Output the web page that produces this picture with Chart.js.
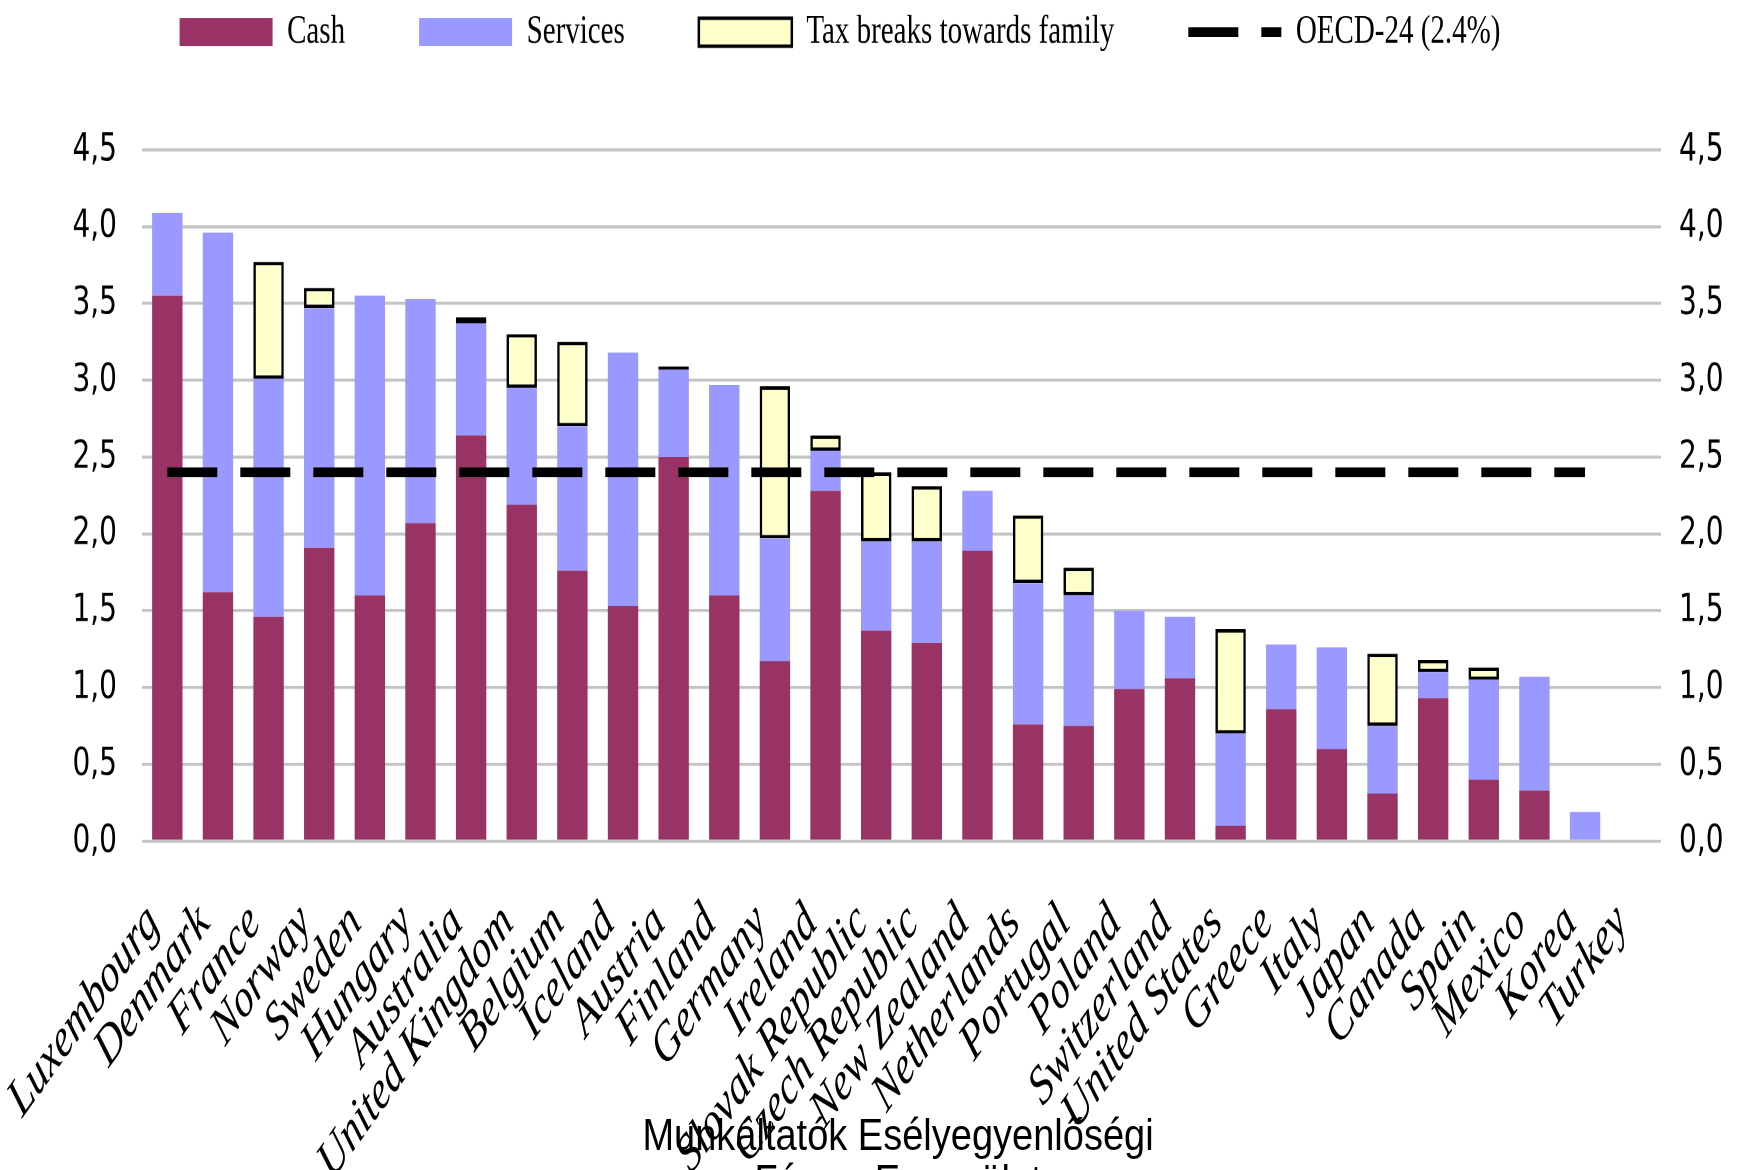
<!DOCTYPE html>
<html>
<head>
<meta charset="utf-8">
<title>Public spending on family benefits</title>
<script src="https://cdn.jsdelivr.net/npm/chart.js@4.4.1/dist/chart.umd.min.js"></script>
<style>
  html, body { margin: 0; padding: 0; background: #fff; overflow: hidden; }
  #page { position: relative; width: 1742px; height: 1170px; overflow: hidden; }
  /* the original slide stretched the chart vertically, so draw flat and stretch */
  #stretch { position: absolute; left: 0; top: 0; width: 1742px; height: 836px;
             transform: scaleY(1.3995); transform-origin: 0 0; }
  #footer { position: absolute; left: 0; top: 1112px; width: 1796px; text-align: center;
            font-family: "Liberation Sans", Arial, sans-serif; font-size: 38px; line-height: 40px;
            color: #000; transform: scaleY(1.15); transform-origin: 50% 0; }
</style>
</head>
<body>
<div id="page">
  <div id="stretch"><canvas id="chart" width="1742" height="836"></canvas></div>
  <div id="footer">Munkáltatók Esélyegyenlőségi<br>Fórum Egyesület</div>
</div>
<script>
"use strict";

const countries = ["Luxembourg", "Denmark", "France", "Norway", "Sweden", "Hungary", "Australia",
  "United Kingdom", "Belgium", "Iceland", "Austria", "Finland", "Germany", "Ireland",
  "Slovak Republic", "Czech Republic", "New Zealand", "Netherlands", "Portugal", "Poland",
  "Switzerland", "United States", "Greece", "Italy", "Japan", "Canada", "Spain", "Mexico",
  "Korea", "Turkey"];

const cash = [3.55, 1.62, 1.46, 1.91, 1.60, 2.07, 2.64, 2.19, 1.76, 1.53, 2.50, 1.60, 1.17, 2.28,
  1.37, 1.29, 1.89, 0.76, 0.75, 0.99, 1.06, 0.10, 0.86, 0.60, 0.31, 0.93, 0.40, 0.33, 0, null];

const services = [0.54, 2.34, 1.55, 1.56, 1.95, 1.46, 0.73, 0.76, 0.94, 1.65, 0.57, 1.37, 0.80, 0.26,
  0.58, 0.66, 0.39, 0.92, 0.85, 0.51, 0.40, 0.60, 0.42, 0.66, 0.44, 0.17, 0.65, 0.74, 0.19, null];

const taxBreaks = [null, null, 0.76, 0.13, null, null, 0.04, 0.35, 0.55, null, 0.02, null, 0.99, 0.10,
  0.45, 0.36, null, 0.44, 0.18, null, null, 0.68, null, null, 0.47, 0.08, 0.08, null, null, null];

// OECD-24 average, drawn from Luxembourg to Korea
const oecdAverage = [2.4, 2.4, 2.4, 2.4, 2.4, 2.4, 2.4, 2.4, 2.4, 2.4, 2.4, 2.4, 2.4, 2.4, 2.4,
  2.4, 2.4, 2.4, 2.4, 2.4, 2.4, 2.4, 2.4, 2.4, 2.4, 2.4, 2.4, 2.4, 2.4, null];

const yMin = 0;
const yMax = 4.5;
const yStep = 0.5;

const serif = "'Liberation Serif', 'Times New Roman', serif";
const tickFont = { family: "'DejaVu Sans', Tahoma, sans-serif", size: 28 };
const oecdDash = [50, 23];

function commaLabel(value) {
  return value.toFixed(1).replace(".", ",");
}

function legendItems(chart) {
  const items = Chart.defaults.plugins.legend.labels.generateLabels(chart);
  items.forEach(function (item) {
    if (item.datasetIndex === 3) {
      item.pointStyle = "line";
      item.lineDash = oecdDash;
      item.lineWidth = 7;
      item.strokeStyle = "#000";
    } else {
      item.pointStyle = "rect";
    }
  });
  return items;
}

const chart = new Chart(document.getElementById("chart"), {
  type: "bar",
  data: {
    labels: countries,
    datasets: [
      { label: "Cash", data: cash, backgroundColor: "#993366", borderWidth: 0, stack: "spend", order: 1 },
      { label: "Services", data: services, backgroundColor: "#9999FF", borderWidth: 0, stack: "spend", order: 1 },
      { label: "Tax breaks towards family", data: taxBreaks, backgroundColor: "#FFFFCC",
        borderColor: "#000", borderWidth: 2.5, borderSkipped: false, stack: "spend", order: 1 },
      { type: "line", label: "OECD-24 (2.4%)", data: oecdAverage, borderColor: "#000",
        backgroundColor: "#000", borderWidth: 7, borderDash: oecdDash, pointRadius: 0,
        fill: false, stack: "oecd", order: 0 }
    ]
  },
  options: {
    responsive: false,
    devicePixelRatio: 2,
    animation: false,
    datasets: { bar: { barPercentage: 0.6, categoryPercentage: 1 } },
    layout: { padding: { top: -65.5, left: -62, right: 0, bottom: 0 } },
    plugins: {
      legend: {
        position: "top",
        labels: {
          usePointStyle: true,
          pointStyleWidth: 93,
          boxHeight: 20,
          padding: 74,
          color: "#000",
          font: { family: serif, size: 29 },
          sort: function (a, b) { return a.datasetIndex - b.datasetIndex; },
          generateLabels: legendItems
        }
      },
      // empty subtitle only keeps the gap between legend and plot
      subtitle: { display: true, text: "", weight: 500, font: { size: 20 }, padding: { top: 0, bottom: 35.5 } },
      tooltip: { enabled: false }
    },
    scales: {
      x: {
        stacked: true,
        grid: { display: false },
        border: { display: false },
        ticks: {
          autoSkip: false, minRotation: 45, maxRotation: 45, padding: 28, labelOffset: -14,
          color: "#000", font: { family: serif, style: "italic", size: 39 }
        },
        afterFit: function (scale) {
          scale.height = 235;
          scale.paddingLeft = 0;
          scale.paddingRight = 0;
        }
      },
      y: {
        stacked: true, min: yMin, max: yMax,
        grid: { color: "#c4c4c4", lineWidth: 2.2, drawTicks: false },
        border: { display: false },
        ticks: { stepSize: yStep, padding: 25, color: "#000", font: tickFont, callback: commaLabel },
        afterFit: function (scale) { scale.width = 204; }
      },
      y2: {
        position: "right", min: yMin, max: yMax,
        grid: { display: false, drawTicks: false },
        border: { display: false },
        ticks: { stepSize: yStep, padding: 18, color: "#000", font: tickFont, callback: commaLabel },
        afterFit: function (scale) { scale.width = 81; }
      }
    }
  }
});
</script>
</body>
</html>
